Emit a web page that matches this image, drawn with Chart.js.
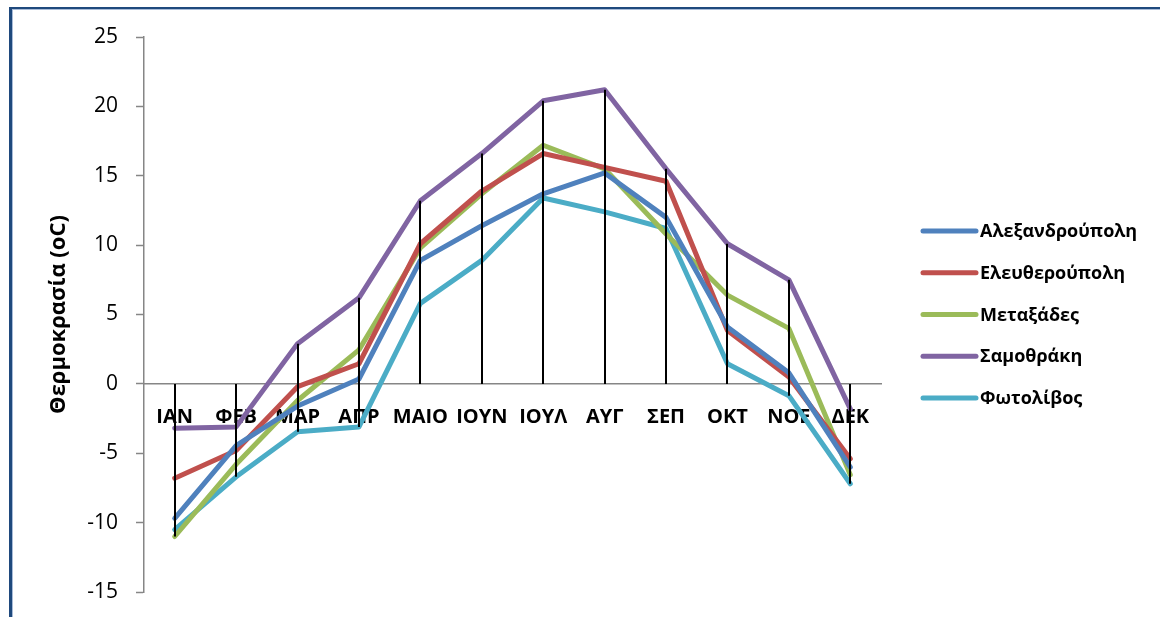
<!DOCTYPE html>
<html>
<head>
<meta charset="utf-8">
<script src="https://cdn.jsdelivr.net/npm/chart.js@4.4.1/dist/chart.umd.min.js"></script>
<style>
  html, body { margin: 0; padding: 0; background: #fff; }
  #wrap { position: relative; width: 1160px; height: 617px; overflow: hidden; background: #fff; }
  #c { position: absolute; left: 0; top: 0; }
  #frame {
    position: absolute; left: 9px; top: 7px; width: 1300px; height: 800px;
    border-top: 2px solid #1F497D; border-left: 3px solid #1F497D;
    box-shadow: inset 1px 1px 0 #a9bcd8; pointer-events: none;
  }
</style>
</head>
<body>
<div id="wrap">
  <canvas id="c" width="1160" height="617"></canvas>
  <div id="frame"></div>
</div>
<script>
// Μηνιαίες μέσες θερμοκρασίες (°C) ανά σταθμό
const months = ['ΙΑΝ', 'ΦΕΒ', 'ΜΑΡ', 'ΑΠΡ', 'ΜΑΙΟ', 'ΙΟΥΝ', 'ΙΟΥΛ', 'ΑΥΓ', 'ΣΕΠ', 'ΟΚΤ', 'ΝΟΕ', 'ΔΕΚ'];

const alexandroupoli = [-9.7, -4.45, -1.6, 0.35, 8.9, 11.4, 13.7, 15.2, 12.0, 4.1, 0.8, -6.0];
const eleftheroupoli = [-6.8, -4.8, -0.2, 1.45, 10.1, 13.9, 16.6, 15.6, 14.6, 3.85, 0.5, -5.4];
const metaxades      = [-11.0, -5.8, -1.2, 2.45, 9.8, 13.7, 17.2, 15.5, 10.8, 6.4, 4.0, -6.55];
const samothraki     = [-3.2, -3.1, 2.9, 6.2, 13.2, 16.6, 20.4, 21.2, 15.5, 10.1, 7.5, -1.8];
const fotolivos      = [-10.5, -6.7, -3.45, -3.1, 5.8, 8.9, 13.4, 12.4, 11.2, 1.45, -0.85, -7.2];

const stationNames  = ['Αλεξανδρούπολη', 'Ελευθερούπολη', 'Μεταξάδες', 'Σαμοθράκη', 'Φωτολίβος'];
const stationValues = [alexandroupoli, eleftheroupoli, metaxades, samothraki, fotolivos];
const stationColors = ['#4F81BD', '#C0504D', '#9BBB59', '#8064A2', '#4BACC6'];

const yTicks = { min: -15, max: 25, step: 5 };
const yTitle = 'Θερμοκρασία (oC)';

const FONT = '"Open Sans", "Noto Sans", sans-serif';
Chart.defaults.font.family = FONT;

// Κατακόρυφες γραμμές από τον άξονα (0) έως την ακραία τιμή κάθε μήνα
const dropLines = {
  id: 'dropLines',
  afterDatasetsDraw(chart) {
    const { ctx, scales: { x, y } } = chart;
    ctx.save();
    ctx.strokeStyle = '#000';
    ctx.lineWidth = 2;
    chart.data.labels.forEach((_, i) => {
      const vals = chart.data.datasets.map(d => d.data[i]);
      const hi = Math.max(0, ...vals);
      const lo = Math.min(0, ...vals);
      const px = Math.round(x.getPixelForValue(i));
      ctx.beginPath();
      ctx.moveTo(px, y.getPixelForValue(hi));
      ctx.lineTo(px, y.getPixelForValue(lo));
      ctx.stroke();
    });
    ctx.restore();
  }
};

// Υπόμνημα στα δεξιά της περιοχής γραφήματος
const sideLegend = {
  id: 'sideLegend',
  afterDraw(chart) {
    const { ctx, chartArea } = chart;
    const ds = chart.data.datasets;
    const x0 = chartArea.right + 40;
    const cy = (chartArea.top + chartArea.bottom) / 2;
    const gap = 41.8;
    ctx.save();
    ds.forEach((d, i) => {
      const yy = cy + (i - (ds.length - 1) / 2) * gap;
      ctx.strokeStyle = d.borderColor;
      ctx.lineWidth = 5;
      ctx.lineCap = 'round';
      ctx.beginPath();
      ctx.moveTo(x0 + 2, yy);
      ctx.lineTo(x0 + 55, yy);
      ctx.stroke();
      ctx.fillStyle = '#000';
      ctx.font = 'bold 18px ' + FONT;
      ctx.textBaseline = 'middle';
      ctx.textAlign = 'left';
      ctx.fillText(d.label, x0 + 59, yy + 1);
    });
    ctx.restore();
  }
};

// Τα περιθώρια του πλαισίου ορίζονται μόνο από το layout.padding
function noVerticalPadding(scale) {
  scale.paddingTop = 0;
  scale.paddingBottom = 0;
}

new Chart(document.getElementById('c'), {
  type: 'line',
  data: {
    labels: months,
    datasets: stationNames.map((name, i) => ({
      label: name,
      data: stationValues[i],
      borderColor: stationColors[i],
      backgroundColor: stationColors[i],
      fill: false
    }))
  },
  options: {
    responsive: false,
    animation: false,
    layout: { padding: { top: 37, bottom: 25, left: 0, right: 279 } },
    plugins: { legend: { display: false }, tooltip: { enabled: false } },
    elements: {
      point: { radius: 0, hoverRadius: 0 },
      line: { borderWidth: 5, tension: 0, borderJoinStyle: 'round', borderCapStyle: 'round' }
    },
    scales: {
      y: {
        min: yTicks.min,
        max: yTicks.max,
        ticks: { stepSize: yTicks.step, color: '#000', font: { size: 21 }, padding: 18 },
        grid: { drawOnChartArea: false, drawTicks: true, tickLength: 8, tickColor: '#868686', tickWidth: 1.5 },
        border: { color: '#868686', width: 1.5 },
        title: {
          display: true, text: yTitle, color: '#000',
          font: { size: 22, weight: 'bold' }, padding: { top: 46 }
        },
        afterFit(scale) { scale.width = 144; noVerticalPadding(scale); }
      },
      x: {
        position: { y: 0 },
        offset: true,
        grid: { display: false, drawTicks: false },
        border: { color: '#868686', width: 1.5 },
        ticks: {
          color: '#000', font: { size: 20, weight: 'bold' },
          padding: 21, maxRotation: 0, autoSkip: false
        },
        afterFit(scale) { noVerticalPadding(scale); }
      }
    }
  },
  plugins: [dropLines, sideLegend]
});
</script>
</body>
</html>
